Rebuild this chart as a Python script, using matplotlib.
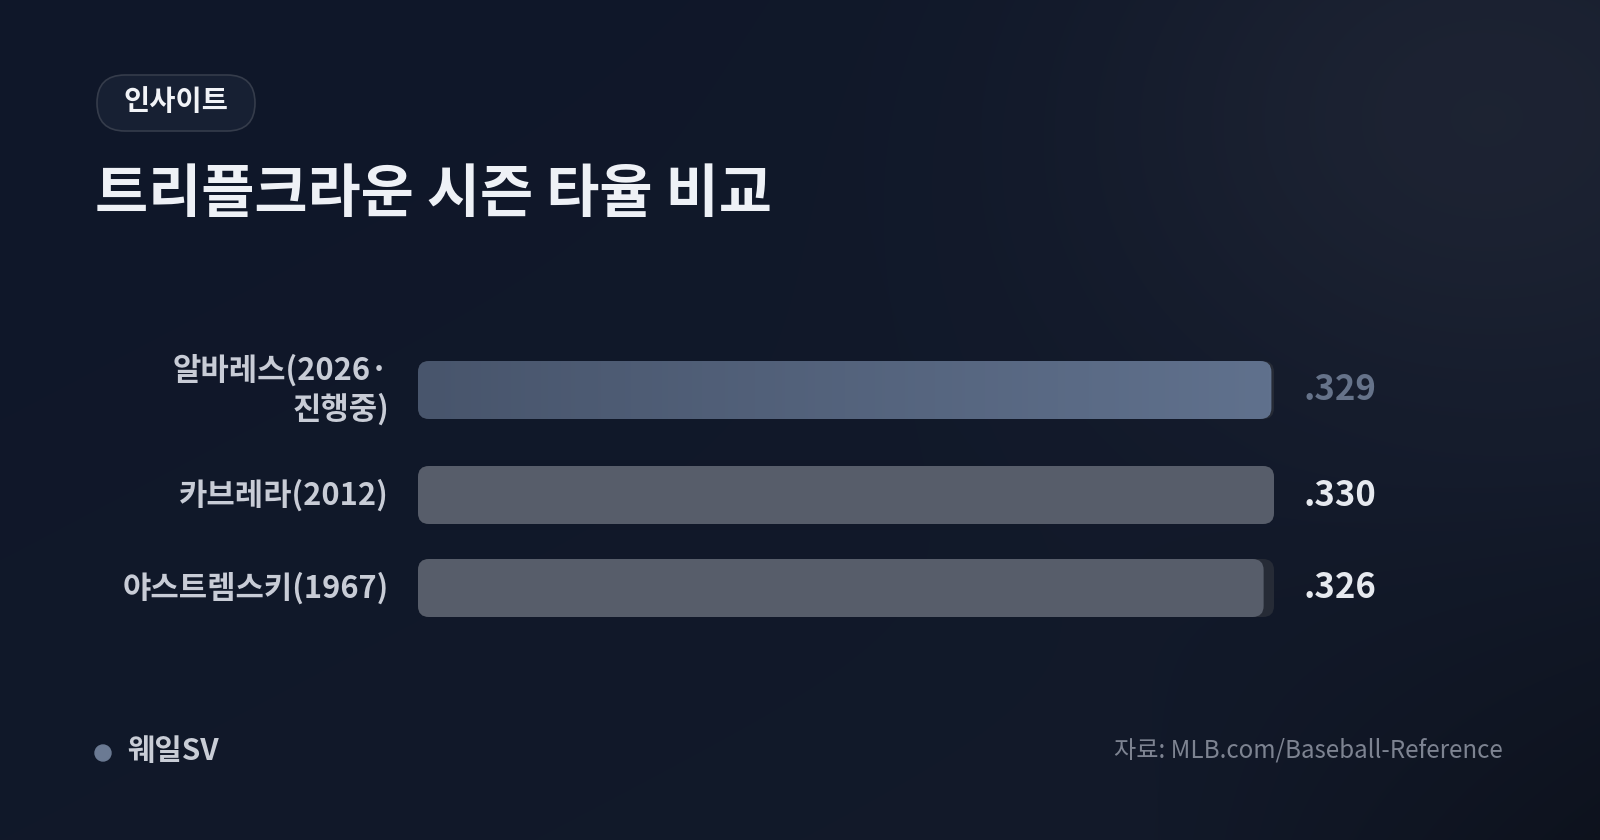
import numpy as np
import matplotlib
matplotlib.use('Agg')
import matplotlib.pyplot as plt
from matplotlib.patches import FancyBboxPatch, Circle
from matplotlib.transforms import blended_transform_factory

plt.rcParams['font.family'] = ['Noto Sans CJK KR', 'DejaVu Sans']

# 데이터
players = ['알바레스(2026·\n진행중)', '카브레라(2012)', '야스트렘스키(1967)']
avg = [0.329, 0.330, 0.326]
avg_labels = ['.329', '.330', '.326']
highlight = [True, False, False]

title = '트리플크라운 시즌 타율 비교'
tag = '인사이트'
brand = '웨일SV'
source = '자료: MLB.com/Baseball-Reference'

W, H = 1600, 840
fig = plt.figure(figsize=(16, 8.4), dpi=100)

# 배경 그라디언트
bg = fig.add_axes([0, 0, 1, 1])
yy, xx = np.mgrid[0:H, 0:W]
u, v = xx / W, yy / H
c0 = np.array([15, 23, 41]) / 255
c1 = np.array([19, 26, 42]) / 255
img = c0 + (c1 - c0) * (0.5 * u + 0.5 * v)[..., None]
glow = np.exp(-(((xx - 1480) / 380) ** 2 + ((yy - 110) / 300) ** 2))
img = img + glow[..., None] * (np.array([32, 38, 54]) / 255 - c0) * 0.7
dark = np.clip((u - 0.7) / 0.3, 0, 1) * np.clip((v - 0.55) / 0.45, 0, 1)
img = img * (1 - 0.3 * dark[..., None])
bg.imshow(np.clip(img, 0, 1), extent=[0, W, H, 0], aspect='auto')
bg.set_xlim(0, W)
bg.set_ylim(H, 0)
bg.axis('off')

# 태그 알약
pill = FancyBboxPatch((97, 75), 158, 56, boxstyle="round,pad=0,rounding_size=28",
                      facecolor='#172033', edgecolor='#353c4b', linewidth=1.2)
bg.add_patch(pill)
bg.text(176, 102, tag, color='#f1f3f7', fontsize=20.5, fontweight='bold',
        ha='center', va='center')

# 제목
bg.text(95, 195, title, color='#eef1f6', fontsize=41.6, fontweight='bold',
        ha='left', va='center')

# 푸터
bg.add_patch(Circle((103, 753), 8, color='#6b7a93'))
bg.text(127, 751, brand, color='#c9cdd6', fontsize=21.4, fontweight='bold',
        ha='left', va='center')
bg.text(1503, 751, source, color='#7d8391', fontsize=17.4,
        ha='right', va='center')

# 막대 영역
ax_l, ax_r, ax_t, ax_b = 418, 1274, 340, 640
ax = fig.add_axes([ax_l / W, (H - ax_b) / H, (ax_r - ax_l) / W, (ax_b - ax_t) / H])
ax.set_facecolor('none')
ax.axis('off')
vmax = max(avg)
ax.set_xlim(0, vmax)
ax.set_ylim(ax_b, ax_t)
px = vmax / (ax_r - ax_l)
row_y = [390, 495, 588]
bar_h = 58
rad = 11

def rbar(x, yc, **kw):
    p = FancyBboxPatch((0, yc - bar_h / 2), x, bar_h,
                       boxstyle=f"round,pad=0,rounding_size={rad * px}",
                       mutation_aspect=1 / px, linewidth=0, **kw)
    ax.add_patch(p)
    return p

trans = blended_transform_factory(ax.transAxes, ax.transData)
for name, val, lab, hl, yc in zip(players, avg, avg_labels, highlight, row_y):
    rbar(vmax, yc, facecolor='#262b36', zorder=1)
    if hl:
        p = rbar(val, yc, facecolor='none', zorder=2)
        grad = np.linspace(0, 1, 256)[None, :, None]
        left = np.array([72, 85, 108]) / 255
        right = np.array([96, 113, 141]) / 255
        gimg = left + (right - left) * grad
        im = ax.imshow(gimg, extent=[0, val, yc + bar_h / 2, yc - bar_h / 2],
                       aspect='auto', zorder=2)
        im.set_clip_path(p)
        vcol = '#66738a'
    else:
        rbar(val, yc, facecolor='#575d6a', zorder=2)
        vcol = '#e6e9ef'
    ax.text(1.035, yc, lab, transform=trans, color=vcol, fontsize=25,
            fontweight='bold', ha='left', va='center')
    ax.text(-0.034, yc, name, transform=trans, color='#c8ccd6', fontsize=22.2,
            fontweight='semibold', ha='right', va='center', linespacing=1.25,
            multialignment='right')

ax.set_xlim(0, vmax)
ax.set_ylim(ax_b, ax_t)

fig.savefig('out.png', dpi=100)
